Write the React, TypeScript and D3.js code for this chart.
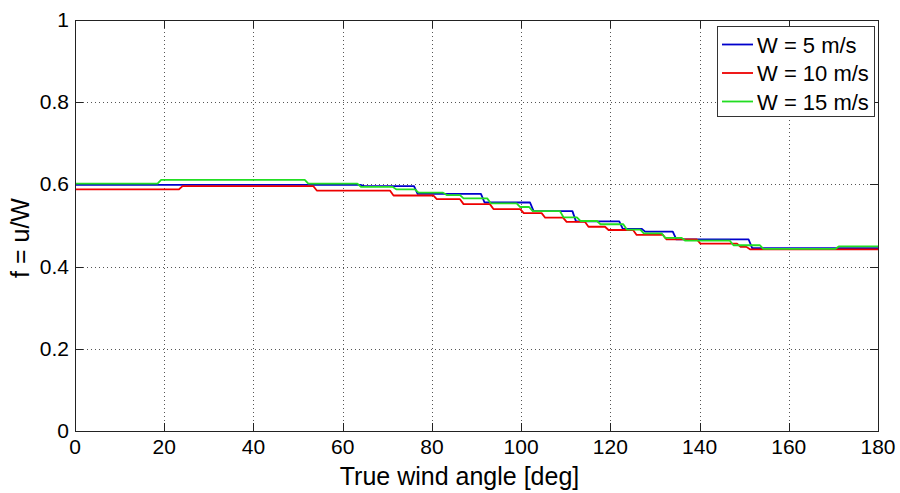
import React, { useEffect, useRef } from 'react';
import * as d3 from 'd3';

// step levels: [angle where level starts, f]
const blueSteps: [number, number][] = [
  [0, 0.599], [64, 0.596], [76, 0.577], [91, 0.556], [102, 0.535], [111.5, 0.510],
  [122, 0.492], [127, 0.485], [134, 0.466], [151, 0.445], [180, 0.445],
];
const redSteps: [number, number][] = [
  [0, 0.588], [23.3, 0.596], [53.4, 0.585], [70.6, 0.573], [80.3, 0.564], [86.3, 0.552],
  [93, 0.540], [99.8, 0.530], [104.6, 0.519], [109.4, 0.509], [114.3, 0.497], [118.8, 0.489],
  [125.1, 0.477], [131.8, 0.466], [139.4, 0.456], [148.4, 0.448], [150.5, 0.442], [180, 0.442],
];
const greenSteps: [number, number][] = [
  [0, 0.602], [18.5, 0.611], [51.5, 0.602], [63.3, 0.594], [71.2, 0.588], [76.2, 0.580],
  [82.5, 0.574], [86.3, 0.566], [92.4, 0.554], [99, 0.545], [101.8, 0.535], [108.7, 0.520],
  [112.5, 0.511], [117, 0.503], [122.9, 0.490], [126.7, 0.481], [131.5, 0.470], [136, 0.463],
  [146.8, 0.452], [153.5, 0.443], [170.4, 0.449], [180, 0.449],
];

const seriesNames = ['W = 5 m/s', 'W = 10 m/s', 'W = 15 m/s'];
const seriesColors = ['#0000cc', '#ee0000', '#22dd22'];
const xTicks = [0, 20, 40, 60, 80, 100, 120, 140, 160, 180];
const yTicks = [0, 0.2, 0.4, 0.6, 0.8, 1];

// turn step levels into a polyline with a short ramp at each change
function toPoints(steps: [number, number][]) {
  const pts: [number, number][] = [];
  for (let i = 0; i < steps.length - 1; i++) {
    const [a, v] = steps[i];
    const next = steps[i + 1][0];
    pts.push([i === 0 ? a : a + 0.8, v]);
    pts.push([next, v]);
  }
  return pts;
}

const App = () => {
  const ref = useRef<SVGSVGElement>(null);

  useEffect(() => {
    const svg = d3.select(ref.current);
    svg.selectAll('*').remove();

    const left = 75, right = 878, top = 20, bottom = 431;
    const x = d3.scaleLinear().domain([0, 180]).range([left, right]);
    const y = d3.scaleLinear().domain([0, 1]).range([bottom, top]);
    const font = '"Liberation Sans", Arial, Helvetica, sans-serif';

    svg.append('rect')
      .attr('x', 0).attr('y', 0).attr('width', 900).attr('height', 493)
      .attr('fill', '#fff');

    // grid
    const grid = svg.append('g')
      .attr('stroke', '#555')
      .attr('stroke-width', 1)
      .attr('stroke-dasharray', '1,3');
    grid.selectAll('.gx')
      .data(xTicks.slice(1, -1))
      .enter().append('line')
      .attr('x1', (d) => Math.round(x(d)) + 0.5).attr('x2', (d) => Math.round(x(d)) + 0.5)
      .attr('y1', top).attr('y2', bottom);
    grid.selectAll('.gy')
      .data(yTicks.slice(1, -1))
      .enter().append('line')
      .attr('y1', (d) => Math.round(y(d)) + 0.5).attr('y2', (d) => Math.round(y(d)) + 0.5)
      .attr('x1', left).attr('x2', right);

    // ticks on all four sides, pointing inward
    const tk = svg.append('g').attr('stroke', '#222').attr('stroke-width', 1);
    xTicks.forEach((d) => {
      const px = Math.round(x(d)) + 0.5;
      tk.append('line').attr('x1', px).attr('x2', px).attr('y1', bottom).attr('y2', bottom - 8);
      tk.append('line').attr('x1', px).attr('x2', px).attr('y1', top).attr('y2', top + 8);
    });
    yTicks.forEach((d) => {
      const py = Math.round(y(d)) + 0.5;
      tk.append('line').attr('x1', left).attr('x2', left + 8).attr('y1', py).attr('y2', py);
      tk.append('line').attr('x1', right).attr('x2', right - 8).attr('y1', py).attr('y2', py);
    });

    // series
    const line = d3.line<[number, number]>()
      .x((d) => x(d[0]))
      .y((d) => y(d[1]));
    [blueSteps, redSteps, greenSteps].forEach((s, i) => {
      svg.append('path')
        .attr('d', line(toPoints(s)))
        .attr('fill', 'none')
        .attr('stroke', seriesColors[i])
        .attr('stroke-width', 1.8)
        .attr('stroke-linejoin', 'round');
    });

    // axes box
    svg.append('rect')
      .attr('x', left + 0.5).attr('y', top + 0.5)
      .attr('width', right - left).attr('height', bottom - top)
      .attr('fill', 'none').attr('stroke', '#222').attr('stroke-width', 1);

    // tick labels
    svg.selectAll('.xl')
      .data(xTicks)
      .enter().append('text')
      .attr('x', (d) => x(d)).attr('y', bottom + 23)
      .attr('text-anchor', 'middle')
      .attr('font-family', font).attr('font-size', 21)
      .text((d) => String(d));
    svg.selectAll('.yl')
      .data(yTicks)
      .enter().append('text')
      .attr('x', left - 6).attr('y', (d) => y(d) + 7)
      .attr('text-anchor', 'end')
      .attr('font-family', font).attr('font-size', 21)
      .text((d) => String(d));

    // axis labels
    svg.append('text')
      .attr('x', x(90) - 17).attr('y', 485)
      .attr('text-anchor', 'middle')
      .attr('font-family', font).attr('font-size', 25)
      .text('True wind angle [deg]');
    svg.append('text')
      .attr('transform', `translate(29,238) rotate(-90)`)
      .attr('text-anchor', 'middle')
      .attr('font-family', font).attr('font-size', 25)
      .text('f = u/W');

    // legend
    const lg = svg.append('g');
    lg.append('rect')
      .attr('x', 717.5).attr('y', 26.5).attr('width', 157).attr('height', 90)
      .attr('fill', '#fff').attr('stroke', '#333').attr('stroke-width', 1);
    seriesNames.forEach((name, i) => {
      const cy = 44.5 + i * 28.5;
      lg.append('line')
        .attr('x1', 722).attr('x2', 753).attr('y1', cy).attr('y2', cy)
        .attr('stroke', seriesColors[i]).attr('stroke-width', 1.8);
      lg.append('text')
        .attr('x', 757).attr('y', cy + 8)
        .attr('font-family', font).attr('font-size', 22)
        .text(name);
    });
  }, []);

  return (
    <svg ref={ref} width={900} height={493}
      style={{ position: 'absolute', left: 0, top: 0, display: 'block' }} />
  );
};

export default App;
